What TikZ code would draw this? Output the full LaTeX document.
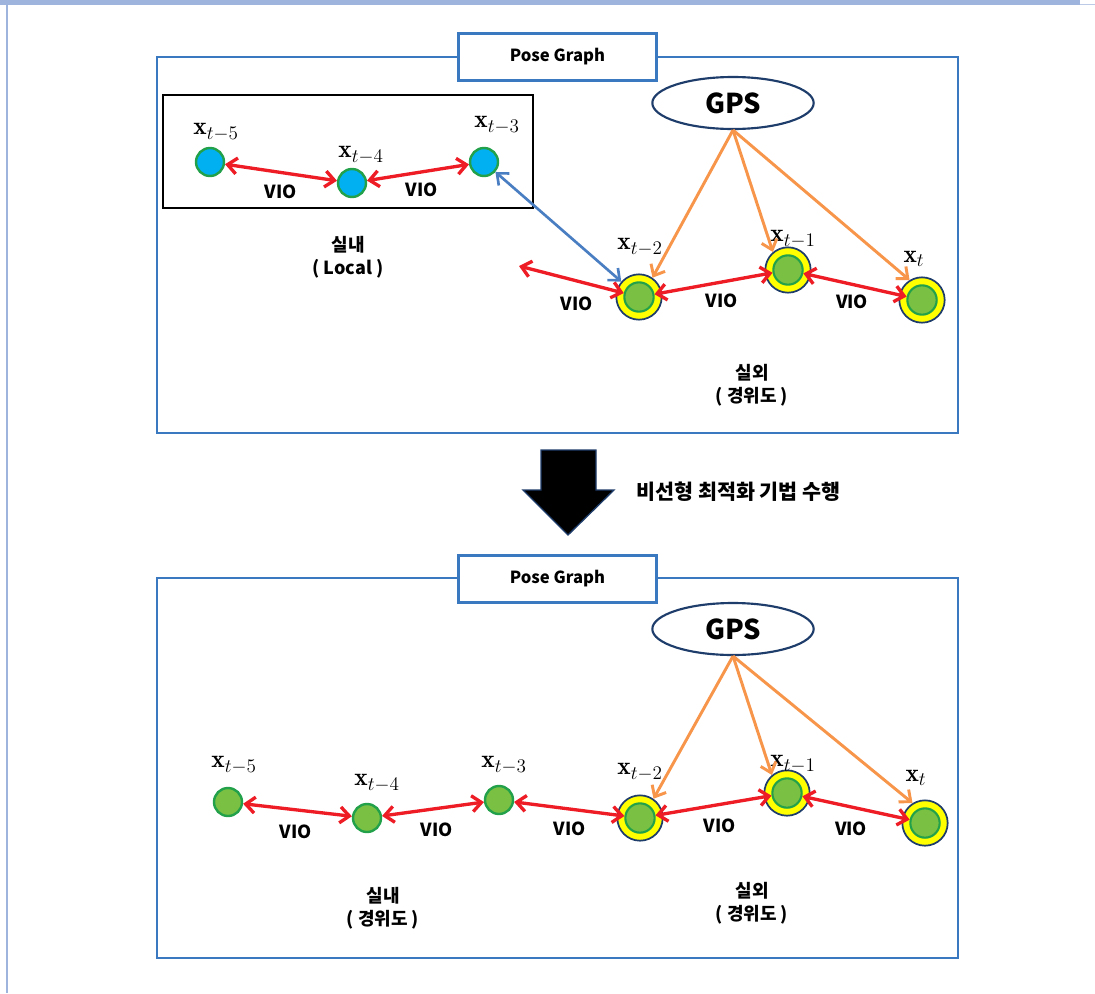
\documentclass[tikz,border=0pt]{standalone}
\usepackage{fontspec}
\newfontfamily\kr{Noto Sans CJK KR}
\usetikzlibrary{arrows.meta,shapes.geometric}
\definecolor{panelblue}{HTML}{3A78C0}
\definecolor{pagebar}{HTML}{9FB4DC}
\definecolor{vioRed}{HTML}{EE1C25}
\definecolor{gpsOrange}{HTML}{F7964A}
\definecolor{linkBlue}{HTML}{4A7EC2}
\definecolor{nodeBlue}{HTML}{00B0F0}
\definecolor{nodeGreen}{HTML}{7AC143}
\definecolor{rimGreen}{HTML}{23A04A}
\definecolor{ringYellow}{HTML}{FFFF00}
\definecolor{ringNavy}{HTML}{1F3D6B}
\tikzset{
  panel/.style={draw=panelblue, line width=2.2pt},
  titlebox/.style={draw=panelblue, line width=2.2pt, fill=white,
    minimum width=148pt, minimum height=35pt, inner sep=0pt,
    font=\kr\bfseries\fontsize{12.5}{15}\selectfont},
  gpsnode/.style={ellipse, draw=ringNavy, line width=1.6pt, fill=white,
    minimum width=121pt, minimum height=39pt, inner sep=0pt,
    font=\kr\bfseries\fontsize{20.5}{24}\selectfont},
  indoor/.style={circle, draw=rimGreen, line width=1.8pt, fill=nodeBlue,
    minimum size=21pt, inner sep=0pt},
  plain/.style={indoor, fill=nodeGreen},
  ring/.style={circle, draw=ringNavy, line width=1.3pt, fill=ringYellow,
    minimum size=34pt, inner sep=0pt},
  core/.style={circle, draw=rimGreen, line width=1.6pt, fill=nodeGreen,
    minimum size=22pt, inner sep=0pt},
  barb/.tip={Straight Barb[length=7pt,width=12pt]},
  vio/.style={draw=vioRed, line width=2.5pt, barb-barb},
  gpslink/.style={draw=gpsOrange, line width=2.2pt, -barb},
  loclink/.style={draw=linkBlue, line width=2pt, barb-barb},
  lbl/.style={font=\fontsize{19}{22}\selectfont, inner sep=0pt},
  viotext/.style={font=\kr\bfseries\fontsize{13.5}{16}\selectfont, inner sep=0pt},
  caption/.style={font=\kr\bfseries\fontsize{13.5}{17}\selectfont, align=center, inner sep=0pt},
}
\begin{document}
\begin{tikzpicture}[x=0.75pt,y=-0.75pt]
\useasboundingbox (0,0) rectangle (1095,993);
\fill[white] (0,0) rectangle (1095,993);
% page frame
\fill[pagebar] (0,0) rectangle (1080,5);
\draw[pagebar!70, line width=0.6pt] (1080,4) -- (1095,4);
\draw[pagebar, line width=1pt] (7,5) -- (7,993);

% ---------- upper pose graph ----------
\draw[panel] (157,57) rectangle (958,433);
\node[titlebox] (t1) at (557.5,57) {Pose Graph};
\draw[black, line width=2.2pt] (163,95) rectangle (533,208);

\node[gpsnode] (g1) at (733,103) {GPS};

\node[indoor] (u5) at (210,162) {};
\node[indoor] (u4) at (352,183) {};
\node[indoor] (u3) at (484,162) {};
\node[ring] (U2) at (639,297) {};
\node[core] (u2) at (639,297) {};
\node[ring] (U1) at (788,270) {};
\node[core] (u1) at (788,270) {};
\node[ring] (U0) at (922,300) {};
\node[core] (u0) at (922,300) {};

\node[lbl] (lu5) at (216,132) {$\mathbf{x}_{t-5}$};
\node[lbl] (lu4) at (361,155) {$\mathbf{x}_{t-4}$};
\node[lbl] (lu3) at (497,125) {$\mathbf{x}_{t-3}$};
\node[lbl] (lu2) at (640,247) {$\mathbf{x}_{t-2}$};
\node[lbl] (lu1) at (793,239) {$\mathbf{x}_{t-1}$};
\node[lbl] (lu0) at (914,259) {$\mathbf{x}_{t}$};

\coordinate (uend) at (519,266);
\draw[vio] (u5) -- (u4);
\draw[vio] (u4) -- (u3);
\draw[vio] (uend) -- (u2);
\draw[vio] (u2) -- (u1);
\draw[vio] (u1) -- (u0);
\draw[loclink] (u3) -- (U2);

\draw[gpslink] (g1.south) -- (U2.55);
\draw[gpslink] (g1.south) -- (U1.130);
\draw[gpslink] (g1.south) -- (U0.122);

\node[viotext] (vu1) at (281,192) {VIO};
\node[viotext] (vu2) at (422,190) {VIO};
\node[viotext] (vu3) at (577,304) {VIO};
\node[viotext] (vu4) at (722,301) {VIO};
\node[viotext] (vu5) at (852,302) {VIO};

\node[caption] (cu1) at (348,257) {실내\\( Local )};
\node[caption] (cu2) at (752,385) {실외\\( 경위도 )};

% ---------- optimisation step ----------
\fill[black, draw=ringNavy, line width=1pt]
  (541,450) -- (596,450) -- (596,490) -- (614,490) -- (568,535)
  -- (523,490) -- (541,490) -- cycle;
\node[caption, anchor=west, font=\kr\bfseries\fontsize{15.5}{18}\selectfont]
  (step) at (636,492) {비선형 최적화 기법 수행};

% ---------- lower pose graph ----------
\draw[panel] (157,578) rectangle (958,958);
\node[titlebox] (t2) at (557.5,579) {Pose Graph};

\node[gpsnode] (g2) at (733,629) {GPS};

\node[plain] (b5) at (228,802) {};
\node[plain] (b4) at (367,818) {};
\node[plain] (b3) at (499,800) {};
\node[ring] (B2) at (640,818) {};
\node[core] (b2) at (640,818) {};
\node[ring] (B1) at (787,793) {};
\node[core] (b1) at (787,793) {};
\node[ring] (B0) at (925,823) {};
\node[core] (b0) at (925,823) {};

\node[lbl] (lb5) at (234,765) {$\mathbf{x}_{t-5}$};
\node[lbl] (lb4) at (377,783) {$\mathbf{x}_{t-4}$};
\node[lbl] (lb3) at (504,765) {$\mathbf{x}_{t-3}$};
\node[lbl] (lb2) at (640,772) {$\mathbf{x}_{t-2}$};
\node[lbl] (lb1) at (793,764) {$\mathbf{x}_{t-1}$};
\node[lbl] (lb0) at (916,778) {$\mathbf{x}_{t}$};

\draw[vio] (b5) -- (b4);
\draw[vio] (b4) -- (b3);
\draw[vio] (b3) -- (b2);
\draw[vio] (b2) -- (b1);
\draw[vio] (b1) -- (b0);

\draw[gpslink] (g2.south) -- (B2.55);
\draw[gpslink] (g2.south) -- (B1.130);
\draw[gpslink] (g2.south) -- (B0.122);

\node[viotext] (vb1) at (296,832) {VIO};
\node[viotext] (vb2) at (437,830) {VIO};
\node[viotext] (vb3) at (570,829) {VIO};
\node[viotext] (vb4) at (720,826) {VIO};
\node[viotext] (vb5) at (851,829) {VIO};

\node[caption] (cb1) at (383,908) {실내\\( 경위도 )};
\node[caption] (cb2) at (752,903) {실외\\( 경위도 )};
\end{tikzpicture}
\end{document}
